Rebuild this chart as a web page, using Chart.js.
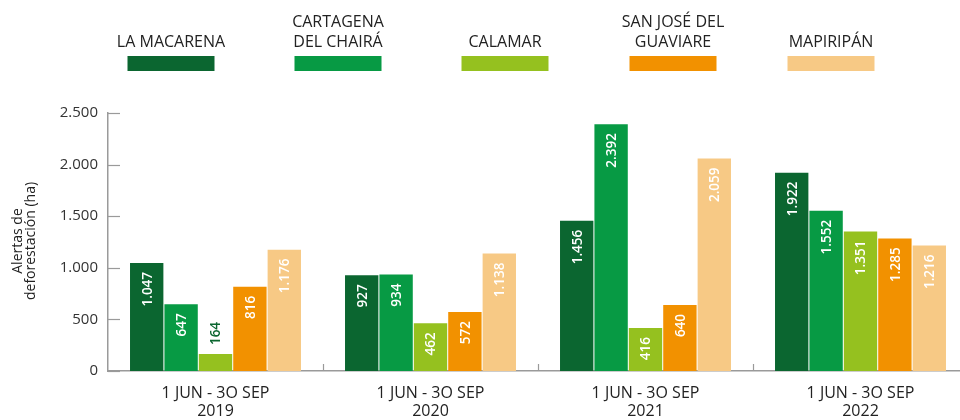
<!DOCTYPE html>
<html>
<head>
<meta charset="utf-8">
<script src="https://cdn.jsdelivr.net/npm/chart.js@4/dist/chart.umd.min.js"></script>
<style>
  html, body { margin: 0; padding: 0; background: #fff; }
  #wrap { width: 960px; height: 420px; overflow: hidden; position: relative; }
  #chart { display: block; }
</style>
</head>
<body>
<div id="wrap"><canvas id="chart" width="968" height="420"></canvas></div>
<script>
// categories (periods)
const categories = [
    ['1 JUN - 3O SEP', '2019'],
    ['1 JUN - 3O SEP', '2020'],
    ['1 JUN - 3O SEP', '2021'],
    ['1 JUN - 3O SEP', '2022']
];

// municipalities
const seriesNames = [
    ['LA MACARENA'],
    ['CARTAGENA', 'DEL CHAIRÁ'],
    ['CALAMAR'],
    ['SAN JOSÉ DEL', 'GUAVIARE'],
    ['MAPIRIPÁN']
];

// deforestation alerts (ha)
const laMacarena   = [1047, 927, 1456, 1922];
const cartagena    = [647, 934, 2392, 1552];
const calamar      = [164, 462, 416, 1351];
const sanJose      = [816, 572, 640, 1285];
const mapiripan    = [1176, 1138, 2059, 1216];

const yTicks = [0, 500, 1000, 1500, 2000, 2500];
const yTitle = ['Alertas de', 'deforestación (ha)'];

const colors = ['#0b6630', '#079a44', '#95c11f', '#f29100', '#f7c985'];
const legendCenters = [171, 338, 505, 673, 831];

const FONT = '"Open Sans", "Noto Sans", sans-serif';

function fmt(v) {
    return String(v).replace(/\B(?=(\d{3})+(?!\d))/g, '.');
}

// legend drawn on top of the canvas: text above the swatch
const topLegend = {
    id: 'topLegend',
    afterDraw(chart) {
        const ctx = chart.ctx;
        ctx.save();
        ctx.font = '16px ' + FONT;
        ctx.textAlign = 'center';
        ctx.textBaseline = 'middle';
        chart.data.datasets.forEach(function (ds, i) {
            let cx = legendCenters[i];
            let lines = seriesNames[i];
            ctx.fillStyle = '#222';
            for (let k = 0; k < lines.length; k++) {
                let ly = 42 - (lines.length - 1 - k) * 20;
                ctx.fillText(lines[k], cx, ly);
            }
            ctx.fillStyle = ds.backgroundColor;
            ctx.fillRect(cx - 43.5, 56, 87, 15);
        });

        // y axis title, two rotated lines
        ctx.fillStyle = '#222';
        ctx.font = '14px ' + FONT;
        ctx.translate(25, 241);
        ctx.rotate(-Math.PI / 2);
        ctx.fillText(yTitle[0], 0, -6.5);
        ctx.fillText(yTitle[1], 0, 6.5);
        ctx.restore();
    }
};

// inward ticks on y axis and group separators on x axis
const innerTicks = {
    id: 'innerTicks',
    afterDraw(chart) {
        const ctx = chart.ctx;
        const y = chart.scales.y, x = chart.scales.x;
        ctx.save();
        ctx.strokeStyle = '#9a9a9a';
        ctx.lineWidth = 1.2;
        yTicks.forEach(function (v) {
            let py = Math.round(y.getPixelForValue(v)) + 0.5;
            ctx.beginPath();
            ctx.moveTo(y.right, py);
            ctx.lineTo(y.right + 12, py);
            ctx.stroke();
        });
        for (let i = 1; i < categories.length; i++) {
            let px = Math.round((x.getPixelForTick(i - 1) + x.getPixelForTick(i)) / 2) + 0.5;
            ctx.beginPath();
            ctx.moveTo(px, x.top);
            ctx.lineTo(px, x.top - 7);
            ctx.stroke();
        }
        ctx.restore();
    }
};

// rotated value labels
const valueLabels = {
    id: 'valueLabels',
    afterDatasetsDraw(chart) {
        const ctx = chart.ctx;
        ctx.save();
        ctx.font = '600 13.5px ' + FONT;
        ctx.textBaseline = 'middle';
        chart.data.datasets.forEach(function (ds, i) {
            const meta = chart.getDatasetMeta(i);
            meta.data.forEach(function (bar, j) {
                let txt = fmt(ds.data[j]);
                let w = ctx.measureText(txt).width;
                let h = bar.base - bar.y;
                ctx.save();
                if (h < w + 8) {
                    // short bar: label sits above it
                    ctx.translate(bar.x, bar.y - 9);
                    ctx.rotate(-Math.PI / 2);
                    ctx.textAlign = 'left';
                    ctx.fillStyle = colors[0];
                } else {
                    ctx.translate(bar.x, bar.y + 9);
                    ctx.rotate(-Math.PI / 2);
                    ctx.textAlign = 'right';
                    ctx.fillStyle = '#ffffff';
                }
                ctx.fillText(txt, 0, 1);
                ctx.restore();
            });
        });
        ctx.restore();
    }
};

const seriesData = [laMacarena, cartagena, calamar, sanJose, mapiripan];

new Chart(document.getElementById('chart'), {
    type: 'bar',
    data: {
        labels: categories,
        datasets: seriesData.map(function (d, i) {
            return {
                label: seriesNames[i].join(' '),
                data: d,
                backgroundColor: colors[i],
                borderWidth: 0,
                barPercentage: 0.97,
                categoryPercentage: 0.8
            };
        })
    },
    options: {
        responsive: false,
        animation: false,
        devicePixelRatio: 1,
        layout: { padding: { top: 113, left: 0, right: 0, bottom: 0 } },
        plugins: {
            legend: { display: false },
            tooltip: { enabled: false }
        },
        scales: {
            x: {
                grid: { display: false, drawTicks: false },
                border: { color: '#9a9a9a', width: 1.5 },
                ticks: {
                    color: '#222',
                    font: { family: FONT, size: 16, lineHeight: 1.15 },
                    padding: 13,
                    maxRotation: 0
                },
                afterFit: function (s) { s.height = 49; }
            },
            y: {
                min: 0,
                max: 2500,
                afterBuildTicks: function (s) {
                    s.ticks = yTicks.map(function (v) { return { value: v }; });
                },
                grid: { display: false, drawTicks: false },
                border: { color: '#9a9a9a', width: 1.5 },
                ticks: {
                    color: '#333',
                    font: { family: FONT, size: 15 },
                    padding: 10,
                    callback: function (v) { return fmt(v); }
                },
                afterFit: function (s) { s.width = 108; }
            }
        }
    },
    plugins: [valueLabels, innerTicks, topLegend]
});
</script>
</body>
</html>
